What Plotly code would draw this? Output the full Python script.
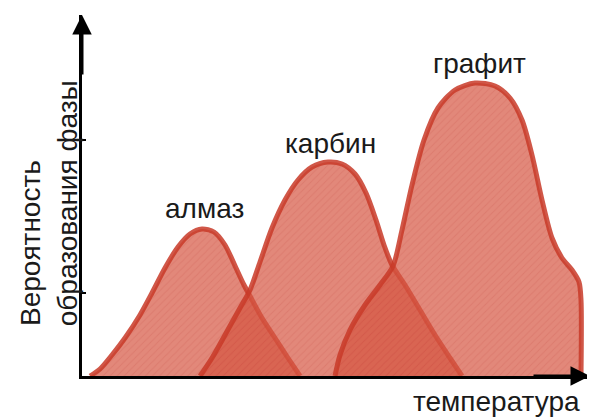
import plotly.graph_objects as go

# Outline samples (temperature, probability) in arbitrary units
almaz_t = [8, 18, 30, 43, 58, 70, 83, 96, 108, 120, 132, 143, 154, 162, 168, 180, 193, 206, 218]
almaz_p = [0, 7, 21, 38, 61, 83, 108, 129, 142, 147, 144, 131, 108, 91, 80, 58, 38, 18, 0]

karbin_t = [118, 130, 143, 158, 168, 178, 190, 203, 216, 230, 246, 260, 273, 284, 294, 302, 310, 323, 338, 353, 368, 380]
karbin_p = [0, 18, 41, 68, 86, 114, 148, 176, 196, 209, 214, 212, 202, 183, 156, 131, 111, 91, 66, 41, 18, 0]

grafit_t = [253, 258, 268, 283, 298, 311, 320, 330, 342, 356, 373, 393, 413, 428, 440, 450, 460, 470, 480, 490, 497, 499, 499]
grafit_p = [0, 21, 46, 71, 91, 110, 146, 191, 236, 268, 286, 293, 290, 278, 256, 221, 176, 138, 118, 106, 94, 76, 0]

phase_names = ["алмаз", "карбин", "графит"]
label_pos_t = [122, 248, 397]
label_pos_p = [168, 233, 313]

x_label = "температура"
y_label_lines = ["Вероятность", "образования фазы"]

FONT = "Liberation Sans, Arial, sans-serif"
TXT = "#1a1a1a"
FS = 28

fig = go.Figure()
for t, p in [(almaz_t, almaz_p), (karbin_t, karbin_p), (grafit_t, grafit_p)]:
    fig.add_trace(go.Scatter(
        x=t, y=p, mode="lines", fill="toself",
        fillcolor="rgba(214,86,66,0.70)",
        fillpattern=dict(shape="/", bgcolor="rgba(214,86,66,0.70)",
                         fgcolor="rgba(185,55,45,0.30)", size=5, solidity=0.2),
        line=dict(color="rgba(200,58,40,0.85)", width=5, shape="spline", smoothing=0.8),
        hoverinfo="skip", showlegend=False,
    ))

ann = []
for name, tx, py in zip(phase_names, label_pos_t, label_pos_p):
    ann.append(dict(x=tx, y=py, xref="x", yref="y", text=name, showarrow=False,
                    font=dict(family=FONT, size=FS, color=TXT)))

ann.append(dict(x=0.815, y=-0.072, xref="paper", yref="paper", text=x_label, showarrow=False,
                xanchor="center", yanchor="middle",
                font=dict(family=FONT, size=FS, color=TXT)))
ann.append(dict(x=-0.1004, y=0.133, xref="paper", yref="paper", text=y_label_lines[0],
                showarrow=False, textangle=-90, xanchor="center", yanchor="bottom",
                font=dict(family=FONT, size=FS, color=TXT)))
ann.append(dict(x=-0.027, y=0.133, xref="paper", yref="paper", text=y_label_lines[1],
                showarrow=False, textangle=-90, xanchor="center", yanchor="bottom",
                font=dict(family=FONT, size=FS, color=TXT)))

# axis arrows
ann.append(dict(x=0, y=361, ax=0, ay=300, xref="x", yref="y", axref="x", ayref="y",
                text="", showarrow=True, arrowhead=2, arrowsize=1.3, arrowwidth=3,
                arrowcolor="black"))
ann.append(dict(x=508, y=0, ax=450, ay=0, xref="x", yref="y", axref="x", ayref="y",
                text="", showarrow=True, arrowhead=2, arrowsize=1.3, arrowwidth=3,
                arrowcolor="black"))

fig.update_layout(
    width=595, height=417,
    margin=dict(l=74, r=13, t=7, b=49),
    paper_bgcolor="white", plot_bgcolor="white",
    annotations=ann,
    xaxis=dict(range=[0, 508], showgrid=False, zeroline=False, showline=True,
               linecolor="black", linewidth=3, showticklabels=False, ticks=""),
    yaxis=dict(range=[0, 361], showgrid=False, zeroline=False, showline=True,
               linecolor="black", linewidth=3, showticklabels=False,
               ticks="inside", tickvals=[83, 236], ticklen=4, tickwidth=1.5,
               tickcolor="black"),
)

fig.write_html("out.html")
